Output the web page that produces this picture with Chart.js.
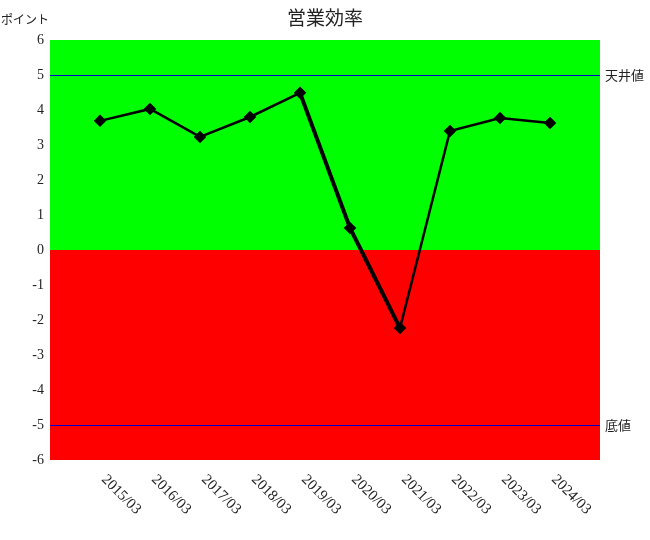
<!DOCTYPE html>
<html>
<head>
<meta charset="utf-8">
<script src="https://cdn.jsdelivr.net/npm/chart.js@4"></script>
<style>
  body { margin: 0; background: #fff; }
  #wrap { width: 650px; height: 540px; }
</style>
</head>
<body>
<div id="wrap"><canvas id="effChart"></canvas></div>
<script>
const categories = ['2015/03', '2016/03', '2017/03', '2018/03', '2019/03', '2020/03', '2021/03', '2022/03', '2023/03', '2024/03'];
const efficiency = [3.69, 4.03, 3.23, 3.8, 4.49, 0.63, -2.23, 3.4, 3.77, 3.63];
const ceilingValue = 5;
const floorValue = -5;
const yTicks = [6, 5, 4, 3, 2, 1, 0, -1, -2, -3, -4, -5, -6];

// blank slots at both ends so points sit one step in from the plot edges
const labels = ['', ...categories, ''];
const lineData = [null, ...efficiency, null];

const serif = '"Liberation Serif", "DejaVu Serif", serif';
const cjk = '"Noto Sans CJK JP", sans-serif';

const decor = {
  id: 'decor',
  beforeDatasetsDraw(chart) {
    const { ctx, chartArea: a, scales: { y } } = chart;
    const zero = y.getPixelForValue(0);
    ctx.save();
    ctx.fillStyle = '#00ff00';
    ctx.fillRect(a.left, a.top, a.right - a.left, zero - a.top);
    ctx.fillStyle = '#ff0000';
    ctx.fillRect(a.left, zero, a.right - a.left, a.bottom - zero);
    ctx.strokeStyle = '#0000cc';
    ctx.lineWidth = 1;
    [ceilingValue, floorValue].forEach(v => {
      const py = Math.round(y.getPixelForValue(v)) + 0.5;
      ctx.beginPath();
      ctx.moveTo(a.left, py);
      ctx.lineTo(a.right, py);
      ctx.stroke();
    });
    ctx.restore();
  },
  afterDraw(chart) {
    const { ctx, chartArea: a, scales: { x, y } } = chart;
    ctx.save();
    ctx.fillStyle = '#222';
    ctx.textBaseline = 'middle';
    ctx.font = '19px ' + cjk;
    ctx.textAlign = 'center';
    ctx.fillText('営業効率', (a.left + a.right) / 2, 18);
    ctx.font = '12px ' + cjk;
    ctx.textAlign = 'left';
    ctx.fillText('ポイント', 1, 19);
    ctx.font = '13px ' + cjk;
    ctx.fillText('天井値', a.right + 5, y.getPixelForValue(ceilingValue));
    ctx.fillText('底値', a.right + 5, y.getPixelForValue(floorValue));
    // rotated category labels
    ctx.font = '15px ' + serif;
    ctx.textBaseline = 'top';
    categories.forEach((c, i) => {
      const px = x.getPixelForValue(i + 1);
      ctx.save();
      ctx.translate(px + 9, a.bottom + 12);
      ctx.rotate(Math.PI / 4);
      ctx.fillText(c, 0, 0);
      ctx.restore();
    });
    ctx.restore();
  }
};

new Chart(document.getElementById('effChart'), {
  type: 'line',
  data: {
    labels: labels,
    datasets: [{
      label: '営業効率',
      data: lineData,
      borderColor: '#000',
      backgroundColor: '#000',
      borderWidth: 2.5,
      pointStyle: 'rectRot',
      pointRadius: 4.5,
      pointBackgroundColor: '#000',
      pointBorderColor: '#000',
      tension: 0,
      segment: {
        borderWidth: c => (c.p0DataIndex === 5 || c.p0DataIndex === 6) ? 4 : 2.5
      }
    }]
  },
  options: {
    responsive: true,
    maintainAspectRatio: false,
    animation: false,
    layout: { padding: { top: 40, right: 50, bottom: 80, left: 0 } },
    plugins: {
      legend: { display: false },
      title: { display: false },
      tooltip: { enabled: false }
    },
    scales: {
      x: {
        offset: false,
        grid: { display: false },
        border: { display: false },
        ticks: { display: false },
        afterFit: s => { s.height = 0; }
      },
      y: {
        min: -6,
        max: 6,
        grid: { display: false, drawTicks: false },
        border: { display: false },
        afterBuildTicks: s => { s.ticks = yTicks.map(v => ({ value: v })); },
        afterFit: s => { s.width = 50; },
        ticks: {
          color: '#222',
          padding: 6,
          font: { family: serif, size: 14 }
        }
      }
    }
  },
  plugins: [decor]
});
</script>
</body>
</html>
